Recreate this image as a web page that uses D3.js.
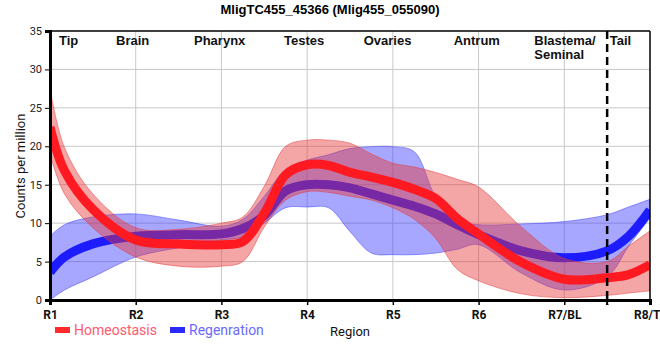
<!DOCTYPE html>
<html><head><meta charset="utf-8">
<script src="https://cdn.jsdelivr.net/npm/d3@7"></script>
<style>body{margin:0;background:#fff}svg{display:block}</style>
</head><body>
<svg id="c" width="660" height="360"></svg>
<script>
const titleText = "MligTC455_45366 (Mlig455_055090)";
const tickLabels = ["R1","R2","R3","R4","R5","R6","R7/BL","R8/TL"];
const yTicks = [0,5,10,15,20,25,30,35];
const regionNames = ["Tip","Brain","Pharynx","Testes","Ovaries","Antrum","Blastema/|Seminal","Tail"];
const regionPos = [1.105,1.77,2.68,3.73,4.66,5.71,6.65,7.53];
const dividerAt = 7.5;
const xs = [1,1.17,1.5,2,2.5,3,3.25,3.5,3.75,4,4.25,4.5,4.75,5,5.25,5.5,5.75,6,6.5,7,7.5,7.75,8];
const redMean  = [22.5,16.8,11.8,7.8,7.3,7.2,7.6,11.3,16.3,17.6,17.5,16.6,16.0,15.3,14.4,13.2,10.6,8.6,4.9,2.7,2.9,3.3,4.6];
const redUpper = [27.5,19.8,13.8,9.4,9.2,10.0,10.8,14.8,20.0,20.8,20.8,20.4,19.0,17.8,17.3,16.6,15.7,14.7,9.5,5.4,5.0,7.0,9.0];
const redLower = [19.0,13.8,9.4,5.6,4.4,4.4,5.0,9.5,13.0,14.1,14.0,13.5,13.0,12.0,10.5,8.0,4.0,2.5,0.8,0.3,0.6,0.9,1.2];
const blueMean  = [3.6,5.6,7.3,8.3,8.5,8.6,9.3,11.0,14.2,15.0,15.0,14.6,13.8,13.0,12.2,11.2,9.8,8.5,6.4,5.5,6.4,8.3,11.7];
const blueUpper = [8.3,9.8,10.8,11.2,10.4,9.6,10.5,13.5,17.0,18.2,18.9,19.7,19.95,19.95,19.3,13.4,10.3,9.8,9.9,10.2,11.1,12.1,13.1];
const blueLower = [0.0,1.3,3.0,5.6,6.8,7.8,8.2,10.0,12.0,12.1,12.0,8.9,6.1,5.9,5.9,6.1,6.6,7.2,3.5,1.3,3.0,7.0,10.7];
const seriesNames = ["Homeostasis","Regenration"];

const svg = d3.select("#c");
const L=50,R=650,T=31,B=300;
const x = d3.scaleLinear().domain([1,8]).range([L,R]);
const y = d3.scaleLinear().domain([0,35]).range([B,T]);

// grid
const g = svg.append("g");
g.selectAll(".gx").data(d3.range(2,8)).join("line")
 .attr("x1",d=>x(d)).attr("x2",d=>x(d)).attr("y1",T).attr("y2",B)
 .attr("stroke","#c8c8c8").attr("stroke-width",1);
g.selectAll(".gy").data(yTicks.slice(1,-1)).join("line")
 .attr("x1",L).attr("x2",R).attr("y1",d=>y(d)).attr("y2",d=>y(d))
 .attr("stroke","#c8c8c8").attr("stroke-width",1);

svg.append("defs").append("clipPath").attr("id","clip").append("rect")
 .attr("x",L).attr("y",T).attr("width",R-L).attr("height",B-T);
const plot = svg.append("g").attr("clip-path","url(#clip)");

const crv = d3.curveCatmullRom.alpha(0.5);
const area = (lo,hi)=>d3.area().x((d,i)=>x(xs[i])).y0((d,i)=>y(lo[i])).y1((d,i)=>y(hi[i])).curve(crv);
const line = arr=>d3.line().x((d,i)=>x(xs[i])).y((d,i)=>y(arr[i])).curve(crv);

plot.append("path").attr("d",area(blueLower,blueUpper)(xs))
 .attr("fill","rgba(60,60,255,0.45)").attr("stroke","rgba(60,60,255,0.5)").attr("stroke-width",1);
plot.append("path").attr("d",line(blueMean)(xs))
 .attr("fill","none").attr("stroke","#1c1cff").attr("stroke-width",9);
plot.append("path").attr("d",area(redLower,redUpper)(xs))
 .attr("fill","rgba(230,55,55,0.45)").attr("stroke","rgba(230,55,55,0.5)").attr("stroke-width",1);
plot.append("path").attr("d",line(redMean)(xs))
 .attr("fill","none").attr("stroke","#ff1a22").attr("stroke-width",9);

// divider
svg.append("line").attr("x1",x(dividerAt)).attr("x2",x(dividerAt)).attr("y1",T).attr("y2",B+5)
 .attr("stroke","#000").attr("stroke-width",2.5).attr("stroke-dasharray","8,5");

// frame
svg.append("line").attr("x1",L).attr("x2",R).attr("y1",T).attr("y2",T).attr("stroke","#000").attr("stroke-width",1.5);
svg.append("line").attr("x1",R).attr("x2",R).attr("y1",T).attr("y2",B).attr("stroke","#000").attr("stroke-width",1.5);

// axes
const xAxis = d3.axisBottom(x).tickValues(d3.range(1,9)).tickSize(5).tickFormat((d,i)=>tickLabels[i]);
const xa = svg.append("g").attr("transform",`translate(0,${B})`).call(xAxis);
xa.select(".domain").attr("stroke","#000").attr("stroke-width",3);
xa.selectAll(".tick line").attr("stroke","#000").attr("stroke-width",1.5);
xa.selectAll("text").attr("font-family","Roboto").attr("font-size",12).attr("font-weight","bold").attr("fill","#111").attr("dy","0.95em");
svg.append("line").attr("x1",x(dividerAt)).attr("x2",x(dividerAt)).attr("y1",B).attr("y2",B+5).attr("stroke","#000").attr("stroke-width",2);

const yAxis = d3.axisLeft(y).tickValues(yTicks).tickSize(5);
const ya = svg.append("g").attr("transform",`translate(${L},0)`).call(yAxis);
ya.select(".domain").attr("stroke","#000").attr("stroke-width",3);
ya.selectAll(".tick line").attr("stroke","#000").attr("stroke-width",1);
ya.selectAll("text").attr("font-family","Roboto").attr("font-size",11).attr("fill","#222");

// title
svg.append("text").attr("x",330).attr("y",14).attr("text-anchor","middle")
 .attr("font-family","Liberation Sans, Arial").attr("font-weight","bold").attr("font-size",13).text(titleText);

// region labels
regionNames.forEach((n,i)=>{
  const parts=n.split("|");
  const t=svg.append("text").attr("x",x(regionPos[i])).attr("y",45)
   .attr("font-family","Liberation Sans, Arial").attr("font-weight","bold").attr("font-size",13).attr("fill","#111");
  parts.forEach((p,j)=>t.append("tspan").attr("x",x(regionPos[i])).attr("dy",j?14:0).text(p));
});

// axis titles
svg.append("text").attr("transform","translate(25,166) rotate(-90)").attr("text-anchor","middle")
 .attr("font-family","Roboto").attr("font-size",13).attr("fill","#111").text("Counts per million");
svg.append("text").attr("x",350).attr("y",336).attr("text-anchor","middle")
 .attr("font-family","Roboto").attr("font-size",13).attr("fill","#111").text("Region");

// legend
const legCols=[["#ff2a2a","#ff5a6e"],["#2a2aff","#6a6aff"]];
const legX=[55,170];
seriesNames.forEach((n,i)=>{
  svg.append("rect").attr("x",legX[i]).attr("y",327).attr("width",15).attr("height",6).attr("fill",legCols[i][0]);
  svg.append("text").attr("x",legX[i]+19).attr("y",335).attr("font-family","Roboto").attr("font-size",14)
   .attr("fill",legCols[i][1]).text(n);
});
</script>
</body></html>
